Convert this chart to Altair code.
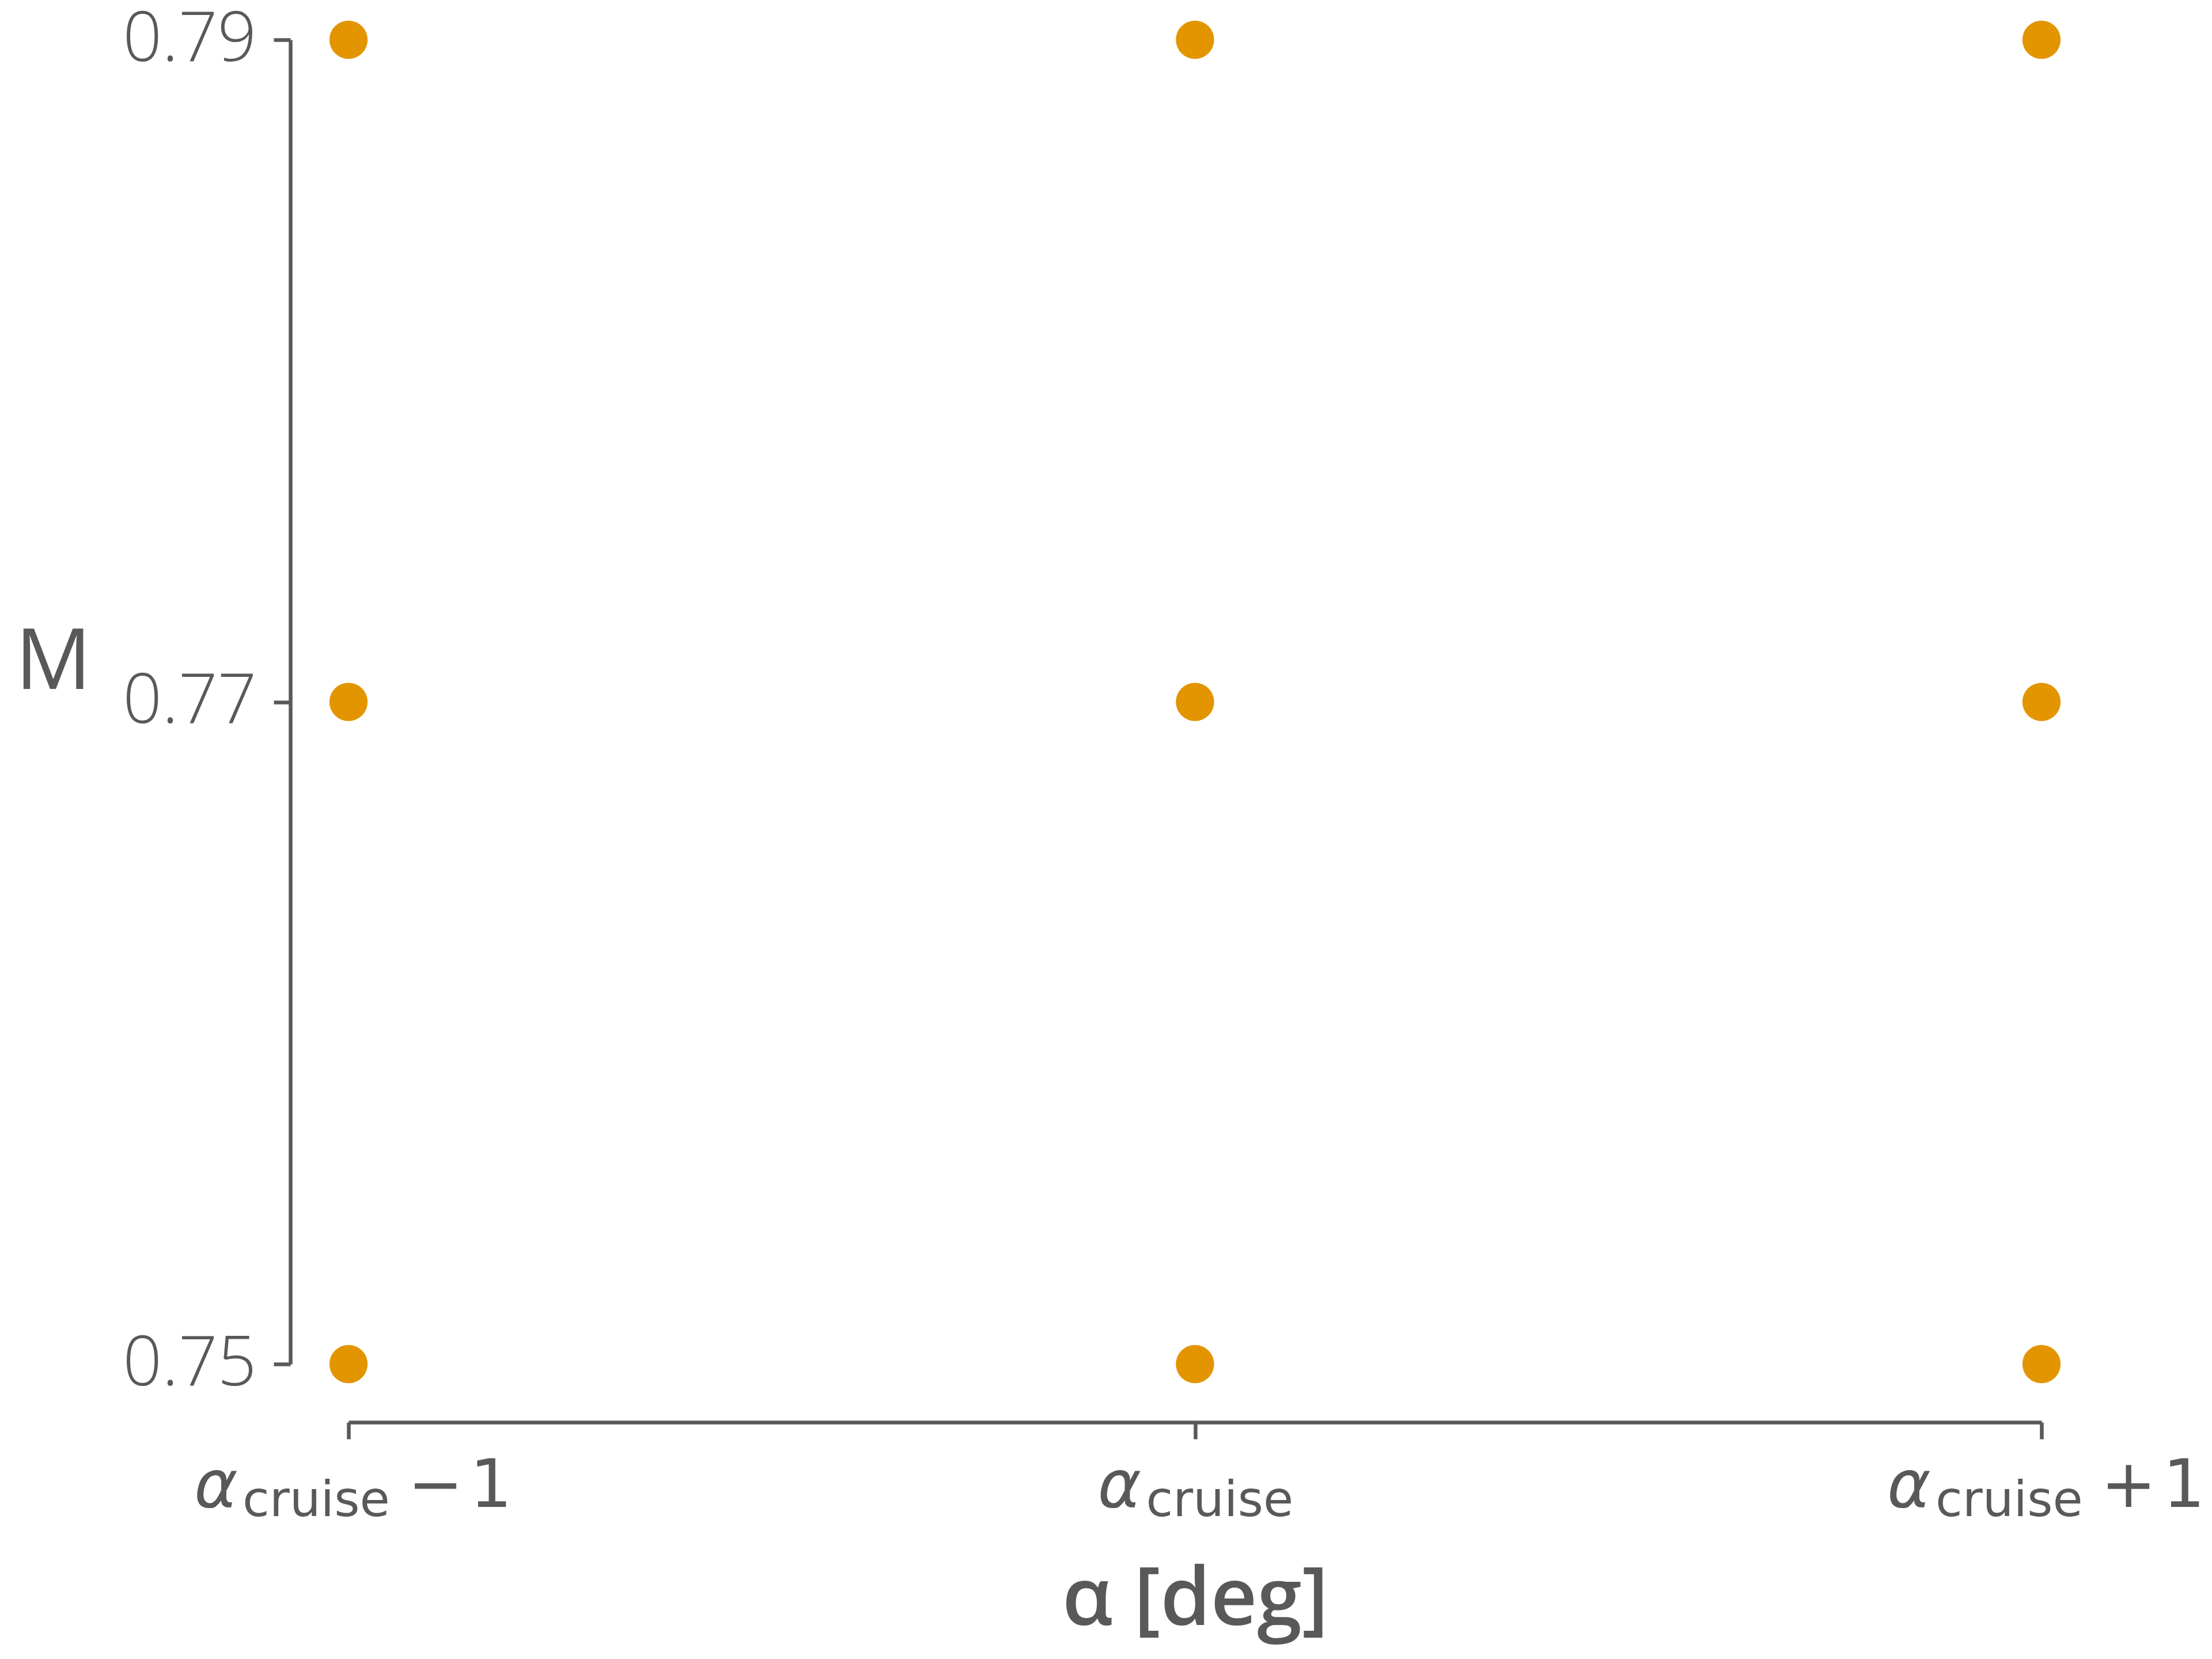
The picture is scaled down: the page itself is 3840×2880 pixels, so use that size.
import altair as alt
import pandas as pd

# ---- data ----
alpha_labels = ["α_cruise − 1", "α_cruise", "α_cruise + 1"]
mach_values = [0.75, 0.77, 0.79]
suffixes = ["−\u200a1", "", "+\u200a1"]

rows = [{"alpha": a, "M": m} for a in alpha_labels for m in mach_values]
df = pd.DataFrame(rows)
lab = pd.DataFrame({"alpha": alpha_labels, "suffix": suffixes})

W, H = 2939, 2299
TEXT = "#5a5858"
ORANGE = "#e39500"
MATH = "DejaVu Sans"
SANS = "Open Sans"

x_enc = alt.X(
    "alpha:N",
    sort=alpha_labels,
    scale=alt.Scale(type="point", padding=0),
    axis=alt.Axis(
        labels=False, ticks=True, tickSize=29, tickWidth=6.5, tickColor=TEXT,
        domainWidth=6.5, domainColor=TEXT, offset=101, grid=False,
        title="α [deg]", titleFont=SANS, titleFontSize=140, titleColor=TEXT,
        titleFontWeight=600, titleBaseline="alphabetic", titleY=351,
    ),
)

y_enc = alt.Y(
    "M:Q",
    scale=alt.Scale(domain=[0.75, 0.79], nice=False, zero=False),
    axis=alt.Axis(
        values=mach_values, format=".2f", tickSize=29, tickWidth=6.5, tickColor=TEXT,
        domainWidth=6.5, domainColor=TEXT, offset=101, grid=False,
        labelFont=SANS, labelFontSize=119, labelColor=TEXT, labelPadding=30,
        labelFontWeight=300, labelLimit=0,
        title="M", titleAngle=0, titleFont=SANS, titleFontSize=147, titleColor=TEXT,
        titleFontWeight="normal", titleAlign="center", titleBaseline="alphabetic",
        titleX=-412, titleY=1126,
    ),
)

points = alt.Chart(df).mark_circle(size=4418, opacity=1, color=ORANGE).encode(x=x_enc, y=y_enc)

outer = alt.FieldOneOfPredicate(field="alpha", oneOf=[alpha_labels[0], alpha_labels[2]])
middle = alt.FieldEqualPredicate(field="alpha", equal=alpha_labels[1])

base = alt.Chart(lab)
txt = dict(font=MATH, color=TEXT, baseline="alphabetic", align="left")

a_outer = base.transform_filter(outer).mark_text(
    text="α", dx=-268, fontSize=115, fontStyle="italic", **txt).encode(x=x_enc, y=alt.value(H + 248))
a_mid = base.transform_filter(middle).mark_text(
    text="α", dx=-169, fontSize=115, fontStyle="italic", **txt).encode(x=x_enc, y=alt.value(H + 248))
s_outer = base.transform_filter(outer).mark_text(
    text="cruise", dx=-184, fontSize=85, **txt).encode(x=x_enc, y=alt.value(H + 264))
s_mid = base.transform_filter(middle).mark_text(
    text="cruise", dx=-85, fontSize=85, **txt).encode(x=x_enc, y=alt.value(H + 264))
suf = base.transform_filter(outer).mark_text(dx=103, fontSize=115, **txt).encode(
    x=x_enc, y=alt.value(H + 248), text="suffix:N")

chart = alt.layer(points, a_outer, a_mid, s_outer, s_mid, suf).properties(
    width=W, height=H,
    autosize=alt.AutoSizeParams(type="none"),
    padding={"left": 597, "top": 61, "right": 288, "bottom": 500},
    background="white",
).configure_view(stroke=None).configure_axis(grid=False)

chart.save("out.html", embed_options={"renderer": "svg", "actions": False})
